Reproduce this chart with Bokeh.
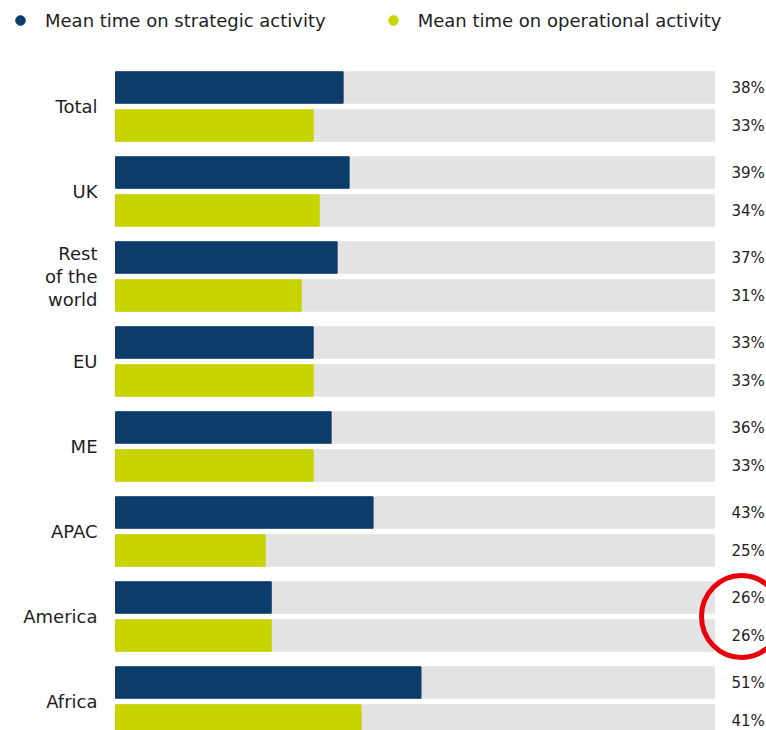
from bokeh.plotting import figure
from bokeh.models import ColumnDataSource, Range1d, Legend, LegendItem
from bokeh.core.properties import value
from bokeh.embed import file_html
from bokeh.resources import INLINE

# ---- data ----
categories = ["Total", "UK", "Rest\nof the\nworld", "EU", "ME", "APAC", "America", "Africa"]
strategic = [38, 39, 37, 33, 36, 43, 26, 51]
operational = [33, 34, 31, 33, 33, 25, 26, 41]
series_labels = ["Mean time on strategic activity", "Mean time on operational activity"]
highlight = "America"
FULL = 100  # track length (100%)

# ---- style / layout ----
NAVY = "#0b3c6a"
LIME = "#c8d400"
TRACK = "#e3e3e3"
FONT = "DejaVu Sans"

W, H = 766, 730
PX_PER_PCT = 5.99
LEFT_PX = 115
GROUP_PX = 85
x_start = -LEFT_PX / PX_PER_PCT
x_end = (W - LEFT_PX) / PX_PER_PCT
y_top = -106 / GROUP_PX
y_bottom = y_top + H / GROUP_PX
OFFSET = 19 / GROUP_PX
BAR_H = 0.37

n = len(categories)
idx = list(range(n))
y_dark = [i - OFFSET for i in idx]
y_lime = [i + OFFSET for i in idx]

src_dark = ColumnDataSource(dict(y=y_dark, v=strategic, lab=[f"{v}%" for v in strategic],
                                 full=[FULL] * n))
src_lime = ColumnDataSource(dict(y=y_lime, v=operational, lab=[f"{v}%" for v in operational],
                                 full=[FULL] * n))
src_cat = ColumnDataSource(dict(y=idx, name=categories))

p = figure(width=W, height=H, x_range=Range1d(x_start, x_end),
           y_range=Range1d(y_bottom, y_top), output_backend="svg",
           toolbar_location=None, min_border=0,
           x_axis_location=None, y_axis_location=None)
p.grid.visible = False
p.outline_line_color = None

# legend markers (hidden beneath the bars, used only for the legend glyphs)
r1 = p.scatter(x="v", y="y", source=src_dark, marker="circle", size=9, color=NAVY,
               level="underlay")
r2 = p.scatter(x="v", y="y", source=src_lime, marker="circle", size=9, color=LIME,
               level="underlay")

# tracks
for s in (src_dark, src_lime):
    p.hbar(y="y", left=0, right="full", height=BAR_H, source=s, color=TRACK)
# bars
p.hbar(y="y", left=0, right="v", height=BAR_H, source=src_dark, color=NAVY)
p.hbar(y="y", left=0, right="v", height=BAR_H, source=src_lime, color=LIME)

# value labels
LABEL_X = (731 - LEFT_PX) / PX_PER_PCT
for s in (src_dark, src_lime):
    p.text(x=LABEL_X, y="y", text="lab", source=s, text_font=value(FONT),
           text_font_size="15px", text_baseline="middle", text_align="left",
           text_color="#1e1e1e")

# category labels
CAT_X = (97 - LEFT_PX) / PX_PER_PCT
p.text(x=CAT_X, y="y", text="name", source=src_cat, text_font=value(FONT),
       text_font_size="18px", text_baseline="middle", text_align="right",
       text_color="#1e1e1e", text_line_height=1.1)

# red highlight circle
hi = categories.index(highlight)
p.ellipse(x=(741 - LEFT_PX) / PX_PER_PCT, y=hi, width=80 / PX_PER_PCT,
          height=82 / GROUP_PX, fill_color=None, line_color="#e8000b", line_width=5)

# legend
legend = Legend(items=[LegendItem(label=series_labels[0], renderers=[r1]),
                       LegendItem(label=series_labels[1], renderers=[r2])],
                orientation="horizontal", location="top_left", margin=8, padding=8,
                spacing=55, label_standoff=13, glyph_width=24, glyph_height=24,
                label_text_font=FONT, label_text_font_size="18px",
                label_text_color="#1e1e1e", background_fill_alpha=0,
                border_line_color=None)
p.add_layout(legend)

open("out.html", "w").write(file_html(p, INLINE))
